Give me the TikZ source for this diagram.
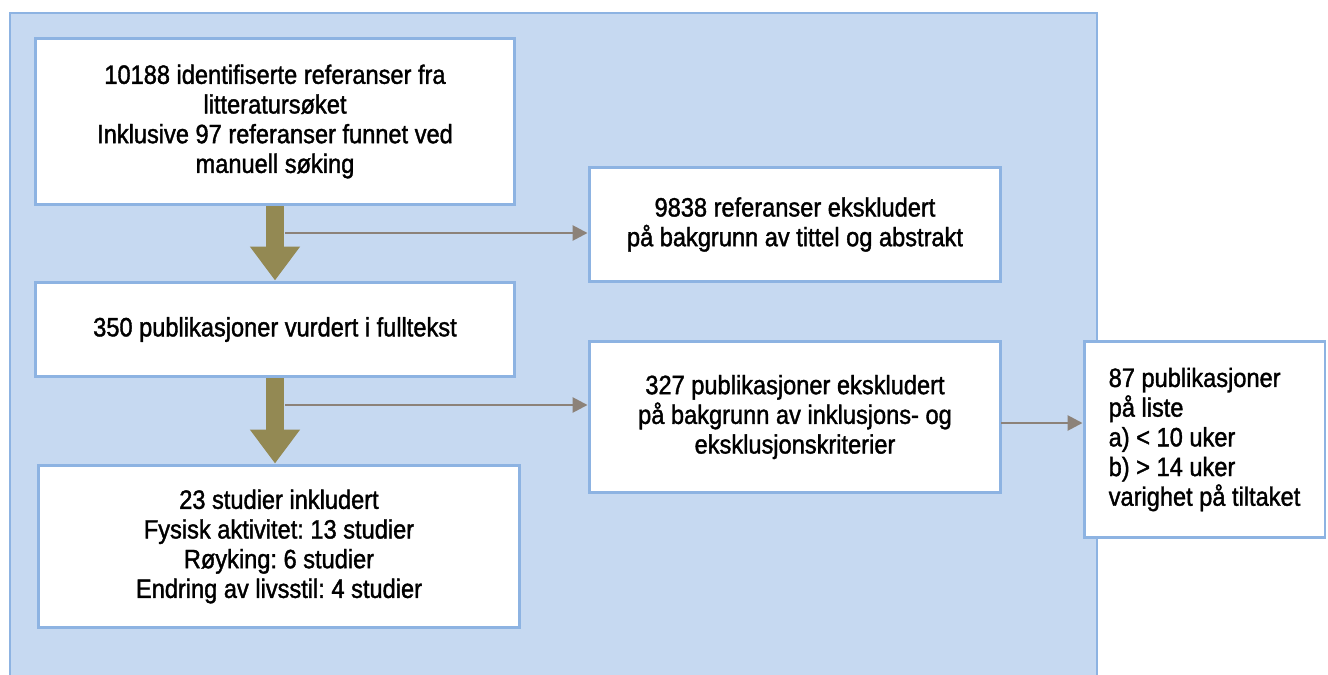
\documentclass[tikz,border=0pt]{standalone}
\usepackage{fontspec}
\setmainfont{Liberation Sans}[FakeBold=1.4, FakeStretch=0.89]
\usepackage{tikz}
\usetikzlibrary{arrows.meta,positioning}
\usepackage{xcolor}
\definecolor{panelfill}{HTML}{C6D9F1}
\definecolor{panelline}{HTML}{8DB3E2}
\definecolor{olive}{HTML}{938953}
\definecolor{flowgray}{HTML}{8C8279}
\frenchspacing

\begin{document}
\begin{tikzpicture}[x=0.02cm, y=-0.02cm,
  every node/.style={font=\fontsize{15.1pt}{16.9pt}\selectfont},
  box/.style={draw=panelline, fill=white, line width=1.7pt, align=center,
              inner sep=0pt},
  bigarrow/.style={olive, line width=0.36cm,
              -{Triangle[width=0.96cm, length=0.68cm]}},
  thinarrow/.style={flowgray, line width=1.5pt,
              -{Triangle[width=0.3cm, length=0.3cm]}}]

  \useasboundingbox (0,0) rectangle (1328,675);

  % ---- Blue panel ----
  \draw[panelline, fill=panelfill, line width=1.1pt] (10,13) rectangle (1097,690);

  % ---- Left column ----
  \node[box, minimum width=9.6cm, minimum height=3.34cm] (idf) at (275,121.5)
    {10188 identifiserte referanser fra\\litteratursøket\\Inklusive 97 referanser funnet ved\\manuell søking};
  \node[box, minimum width=9.6cm, minimum height=1.9cm] (full) at (275,329.5)
    {350 publikasjoner vurdert i fulltekst};
  \node[box, minimum width=9.64cm, minimum height=3.26cm] (incl) at (279,546.5)
    {23 studier inkludert\\Fysisk aktivitet: 13 studier\\Røyking: 6 studier\\Endring av livsstil: 4 studier};

  % ---- Exclusions ----
  \node[box, minimum width=8.24cm, minimum height=2.3cm] (excl1) at (795,224.5)
    {9838 referanser ekskludert\\på bakgrunn av tittel og abstrakt};
  \node[box, minimum width=8.24cm, minimum height=3.04cm] (excl2) at (795,417)
    {327 publikasjoner ekskludert\\på bakgrunn av inklusjons- og\\eksklusjonskriterier};

  % ---- List box outside panel ----
  \node[box, align=left, minimum width=4.82cm, minimum height=3.94cm] (list) at (1204.5,439.5)
    {87 publikasjoner\\på liste\\a) < 10 uker\\b) > 14 uker\\varighet på tiltaket};

  % ---- Main flow ----
  \draw[bigarrow] (idf.south) -- (full.north);
  \draw[bigarrow] (full.south) -- (full.south |- incl.north);

  % ---- Side arrows ----
  \coordinate (split1) at (285,233);
  \coordinate (split2) at (285,405);
  \coordinate (split3) at (1001,423);
  \draw[thinarrow] (split1) -- (split1 -| excl1.west);
  \draw[thinarrow] (split2) -- (split2 -| excl2.west);
  \draw[thinarrow] (split3) -- (split3 -| list.west);
\end{tikzpicture}
\end{document}
